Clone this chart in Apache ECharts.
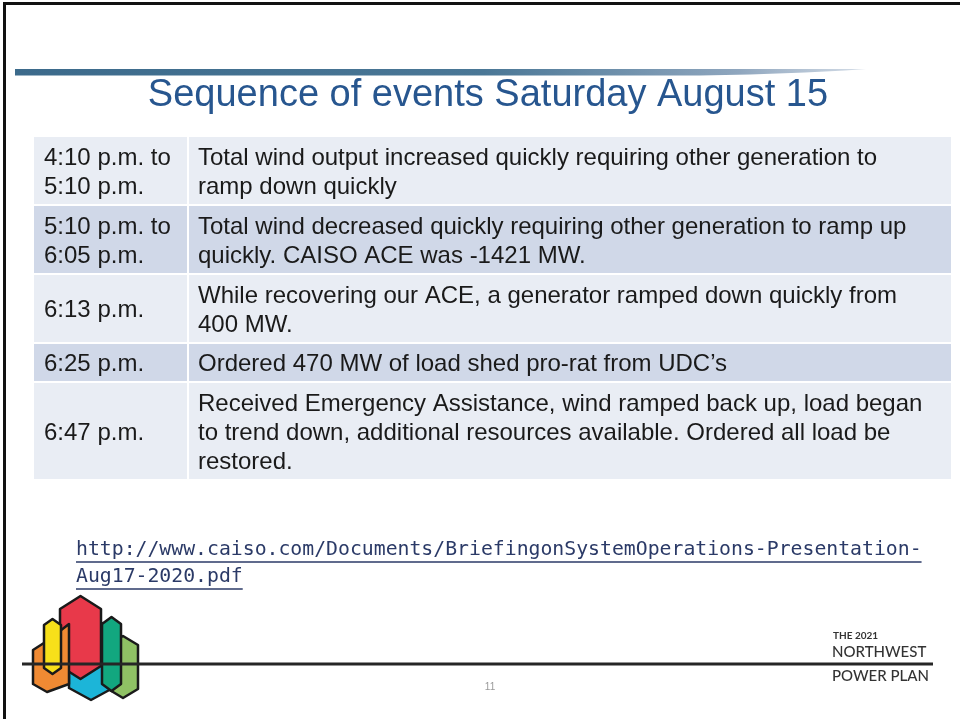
<!DOCTYPE html>
<html>
<head>
<meta charset="utf-8">
<script src="https://cdn.jsdelivr.net/npm/echarts@6/dist/echarts.min.js"></script>
<style>
html, body { margin: 0; padding: 0; background: #fff; }
#main { width: 960px; height: 719px; }
</style>
</head>
<body>
<div id="main"></div>
<script>
// slide content
var titleText = "Sequence of events Saturday August 15";
var times = [
    ["4:10 p.m. to", "5:10 p.m."],
    ["5:10 p.m. to", "6:05 p.m."],
    ["6:13 p.m."],
    ["6:25 p.m."],
    ["6:47 p.m."]
];
var events = [
    ["Total wind output increased quickly requiring other generation to", "ramp down quickly"],
    ["Total wind decreased quickly requiring other generation to ramp up", "quickly. CAISO ACE was -1421 MW."],
    ["While recovering our ACE, a generator ramped down quickly from", "400 MW."],
    ["Ordered 470 MW of load shed pro-rat from UDC\u2019s"],
    ["Received Emergency Assistance, wind ramped back up, load began", "to trend down, additional resources available. Ordered all load be", "restored."]
];
var linkLines = ["http://www.caiso.com/Documents/BriefingonSystemOperations-Presentation-", "Aug17-2020.pdf"];
var footerLines = ["THE 2021", "NORTHWEST", "POWER PLAN"];
var pageNum = "11";

var chart = echarts.init(document.getElementById("main"), null, { renderer: "canvas" });

var TXT_FONT = "Liberation Sans, Arial, sans-serif";
var LINK_FONT = "DejaVu Sans Mono, monospace";

// measure text width (for underline)
var measureCtx = document.createElement("canvas").getContext("2d");
function textWidth(str, font) {
    measureCtx.font = font;
    return measureCtx.measureText(str).width;
}

// elongated hexagon used in the logo
function hex(l, r, t, b, c) {
    var m = (l + r) / 2;
    return [[l, t + c], [m, t], [r, t + c], [r, b - c], [m, b], [l, b - c]];
}

var g = [];

// slide frame
g.push({ type: "polyline", shape: { points: [[4.5, 719], [4.5, 3.5], [960, 3.5]] },
    style: { stroke: "#111", lineWidth: 3, fill: null } });

// header bar
g.push({ type: "polygon",
    shape: { points: [[15, 69], [866, 69], [845, 70.5], [805, 72.5], [750, 74.5], [700, 75.5], [15, 75.5]] },
    style: { fill: new echarts.graphic.LinearGradient(0, 0, 1, 0, [
        { offset: 0, color: "#3c6a8b" },
        { offset: 0.55, color: "#4a7796" },
        { offset: 0.85, color: "#8fa6be" },
        { offset: 1, color: "#d6dee8" }
    ]) } });

// title
g.push({ type: "text", x: 488, y: 96,
    style: { text: titleText, font: "38px " + TXT_FONT, fill: "#27568f", align: "center", verticalAlign: "middle" } });

// table
var tableL = 34, tableR = 951, colSplit = 187, tableTop = 137, lineH = 29, gap = 2;
var rowHeights = [67, 67, 67, 37, 96];
var rowFill = ["#e9edf4", "#d0d8e8"];
var cellFont = "24px " + TXT_FONT;
var y = tableTop;
for (var i = 0; i < events.length; i++) {
    var h = rowHeights[i];
    var fill = rowFill[i % 2];
    g.push({ type: "rect", shape: { x: tableL, y: y, width: colSplit - tableL, height: h }, style: { fill: fill } });
    g.push({ type: "rect", shape: { x: colSplit + gap, y: y, width: tableR - colSplit - gap, height: h }, style: { fill: fill } });
    var cy = y + h / 2;
    g.push({ type: "text", x: 44, y: cy + 2,
        style: { text: times[i].join("\n"), font: cellFont, fill: "#1a1a1a", lineHeight: lineH, verticalAlign: "middle" } });
    g.push({ type: "text", x: 198, y: cy + 2,
        style: { text: events[i].join("\n"), font: cellFont, fill: "#1a1a1a", lineHeight: lineH, verticalAlign: "middle" } });
    y += h + gap;
}

// link with underline
var linkFont = "19.8px " + LINK_FONT;
for (var k = 0; k < linkLines.length; k++) {
    var base = 557 + k * 27;
    g.push({ type: "text", x: 76, y: base - 7,
        style: { text: linkLines[k], font: linkFont, fill: "#2b3a67", verticalAlign: "middle" } });
    g.push({ type: "line", shape: { x1: 76, y1: base + 5, x2: 76 + textWidth(linkLines[k], linkFont), y2: base + 5 },
        style: { stroke: "#2b3a67", lineWidth: 1.5 } });
}

// logo
var logoShapes = [
    { pts: hex(108, 138, 636, 698, 9), color: "#8fc164" },
    { pts: hex(69, 113, 617, 700, 12), color: "#1cb5d8" },
    { pts: hex(60, 101, 596, 679, 13), color: "#e8394a" },
    { pts: [[33, 650], [47, 641], [69, 624], [69, 684], [47, 692], [33, 684]], color: "#f08a33" },
    { pts: hex(44, 61, 619, 674, 6), color: "#f7e01a" },
    { pts: hex(102, 121, 617, 691, 7), color: "#12a77f" }
];
for (var s = 0; s < logoShapes.length; s++) {
    g.push({ type: "polygon", shape: { points: logoShapes[s].pts },
        style: { fill: logoShapes[s].color, stroke: "#1a1a1a", lineWidth: 2.5, lineJoin: "round" } });
}

// footer rule
g.push({ type: "line", shape: { x1: 22, y1: 664, x2: 933, y2: 664 }, style: { stroke: "#262626", lineWidth: 3 } });

// footer brand text
var brandFont = "Lato, Open Sans, sans-serif";
g.push({ type: "text", x: 833, y: 636, style: { text: footerLines[0], font: "bold 10px " + brandFont, fill: "#333", verticalAlign: "middle" } });
g.push({ type: "text", x: 832, y: 652.5, style: { text: footerLines[1], font: "500 15px " + brandFont, fill: "#333", verticalAlign: "middle" } });
g.push({ type: "text", x: 832, y: 676.5, style: { text: footerLines[2], font: "500 15px " + brandFont, fill: "#333", verticalAlign: "middle" } });

// page number
g.push({ type: "text", x: 490, y: 687, style: { text: pageNum, font: "10px " + TXT_FONT, fill: "#9a9a9a", align: "center", verticalAlign: "middle" } });

chart.setOption({
    backgroundColor: "#ffffff",
    animation: false,
    graphic: { elements: g }
});
</script>
</body>
</html>
